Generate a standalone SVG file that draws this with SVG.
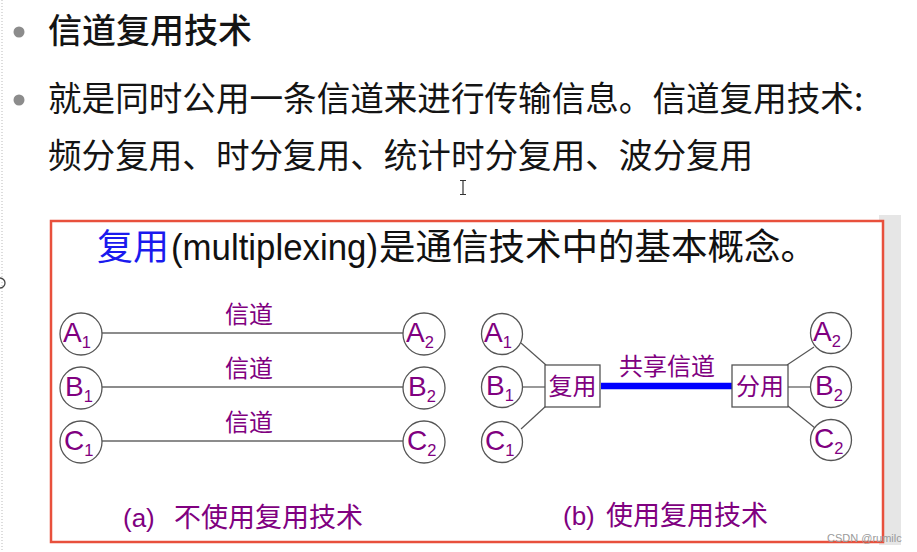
<svg xmlns="http://www.w3.org/2000/svg" width="917" height="552" viewBox="0 0 917 552">
<style>
.cjk{font-family:"Noto Sans CJK SC","Noto Sans",sans-serif}
.body{font-size:33.6px;fill:#141414}
.pur{fill:#800080}
.lbl{font-family:"Noto Sans CJK SC",sans-serif;font-size:24px;fill:#800080}
.nd circle{fill:#fff;stroke:#555;stroke-width:1.3}
.nt{font-family:"Liberation Sans",Arial,sans-serif;font-size:28px;fill:#800080}
.sub{font-size:16.5px}
.box{fill:#fff;stroke:#555;stroke-width:1.3}
.ln{stroke:#666;stroke-width:1.5;fill:none}
.cn{stroke:#555;stroke-width:1.2;fill:none}
</style>
<rect width="917" height="552" fill="#fff"/>
<line x1="2" y1="0" x2="2" y2="552" stroke="#bbb" stroke-width="1" stroke-dasharray="1,2"/>
<circle cx="0" cy="283" r="5" fill="none" stroke="#444" stroke-width="1.3"/>
<rect x="879" y="215" width="22" height="330" fill="#e6e6e6"/>

<g id="bullets">
<circle cx="19" cy="32" r="5.5" fill="#8c8c8c"/>
<circle cx="19" cy="100" r="5.5" fill="#8c8c8c"/>
</g>
<text class="cjk" x="48" y="43" font-size="34" font-weight="500" fill="#141414">信道复用技术</text>
<text class="cjk body" x="48" y="111">就是同时公用一条信道来进行传输信息。信道复用技术:</text>
<text class="cjk body" x="48" y="168">频分复用、时分复用、统计时分复用、波分复用</text>
<path d="M460,180.5h6M463,180.5v14M460,194.5h6" stroke="#333" stroke-width="1.2" fill="none"/>

<rect x="51" y="221" width="832" height="321" fill="#fff" stroke="#e8503c" stroke-width="2.5"/>

<text y="260" font-size="36"><tspan class="cjk" x="97" fill="#1a1aee">复用</tspan><tspan x="171" font-family="Liberation Sans,Arial,sans-serif" fill="#111" textLength="207" lengthAdjust="spacingAndGlyphs">(multiplexing)</tspan><tspan class="cjk" x="379" font-size="36.5" fill="#111">是通信技术中的基本概念。</tspan></text>

<g id="connectors">
<line class="ln" x1="102" y1="333" x2="403" y2="333"/>
<line class="ln" x1="102" y1="387" x2="403" y2="387"/>
<line class="ln" x1="102" y1="441" x2="403" y2="441"/>
<line class="cn" x1="521" y1="343" x2="546" y2="365"/>
<line class="cn" x1="523" y1="387" x2="545" y2="387"/>
<line class="cn" x1="521" y1="429" x2="546" y2="406"/>
<line x1="601" y1="386" x2="733" y2="386" stroke="#0000ff" stroke-width="6.5"/>
<line class="cn" x1="787" y1="365" x2="814" y2="347"/>
<line class="cn" x1="788" y1="387" x2="810" y2="387"/>
<line class="cn" x1="788" y1="406" x2="815" y2="428"/>
</g>

<g id="channel-labels">
<text class="lbl" x="249" y="323" text-anchor="middle">信道</text>
<text class="lbl" x="249" y="377" text-anchor="middle">信道</text>
<text class="lbl" x="249" y="431" text-anchor="middle">信道</text>
<text class="lbl" x="667" y="375" text-anchor="middle" font-size="25">共享信道</text>
</g>

<g id="a-A1" class="nd"><circle cx="81" cy="334" r="21"/><text class="nt" x="63" y="342">A<tspan class="sub" dy="6">1</tspan></text></g>
<g id="a-B1" class="nd"><circle cx="81" cy="388" r="21"/><text class="nt" x="65" y="396">B<tspan class="sub" dy="6">1</tspan></text></g>
<g id="a-C1" class="nd"><circle cx="81" cy="442" r="21"/><text class="nt" x="64" y="450">C<tspan class="sub" dy="6">1</tspan></text></g>
<g id="a-A2" class="nd"><circle cx="424" cy="334" r="21"/><text class="nt" x="406" y="342">A<tspan class="sub" dy="6">2</tspan></text></g>
<g id="a-B2" class="nd"><circle cx="424" cy="388" r="21"/><text class="nt" x="408" y="396">B<tspan class="sub" dy="6">2</tspan></text></g>
<g id="a-C2" class="nd"><circle cx="424" cy="442" r="21"/><text class="nt" x="407" y="450">C<tspan class="sub" dy="6">2</tspan></text></g>

<g id="b-A1" class="nd"><circle cx="502" cy="334" r="20.5"/><text class="nt" x="484" y="342">A<tspan class="sub" dy="6">1</tspan></text></g>
<g id="b-B1" class="nd"><circle cx="502" cy="387" r="20.5"/><text class="nt" x="486" y="395">B<tspan class="sub" dy="6">1</tspan></text></g>
<g id="b-C1" class="nd"><circle cx="502" cy="442" r="20.5"/><text class="nt" x="485" y="450">C<tspan class="sub" dy="6">1</tspan></text></g>
<g id="b-A2" class="nd"><circle cx="831" cy="333" r="20.5"/><text class="nt" x="813" y="341">A<tspan class="sub" dy="6">2</tspan></text></g>
<g id="b-B2" class="nd"><circle cx="831" cy="387" r="20.5"/><text class="nt" x="815" y="395">B<tspan class="sub" dy="6">2</tspan></text></g>
<g id="b-C2" class="nd"><circle cx="831" cy="440" r="20.5"/><text class="nt" x="814" y="448">C<tspan class="sub" dy="6">2</tspan></text></g>

<g id="mux"><rect class="box" x="545" y="365" width="55" height="42"/><text class="lbl" x="572.5" y="395" text-anchor="middle">复用</text></g>
<g id="demux"><rect class="box" x="732" y="365" width="56" height="42"/><text class="lbl" x="760" y="395" text-anchor="middle">分用</text></g>

<g id="captions">
<text y="527" font-size="26" class="pur"><tspan x="123" font-family="Liberation Sans,Arial,sans-serif">(a)</tspan><tspan class="cjk" x="174" font-size="27">不使用复用技术</tspan></text>
<text y="525" font-size="26" class="pur"><tspan x="563" font-family="Liberation Sans,Arial,sans-serif">(b)</tspan><tspan class="cjk" x="606" font-size="27">使用复用技术</tspan></text>
</g>

<text x="827" y="542" font-family="Liberation Sans,Arial,sans-serif" font-size="11" fill="#9a9a9a">CSDN @rumilc</text>
</svg>
